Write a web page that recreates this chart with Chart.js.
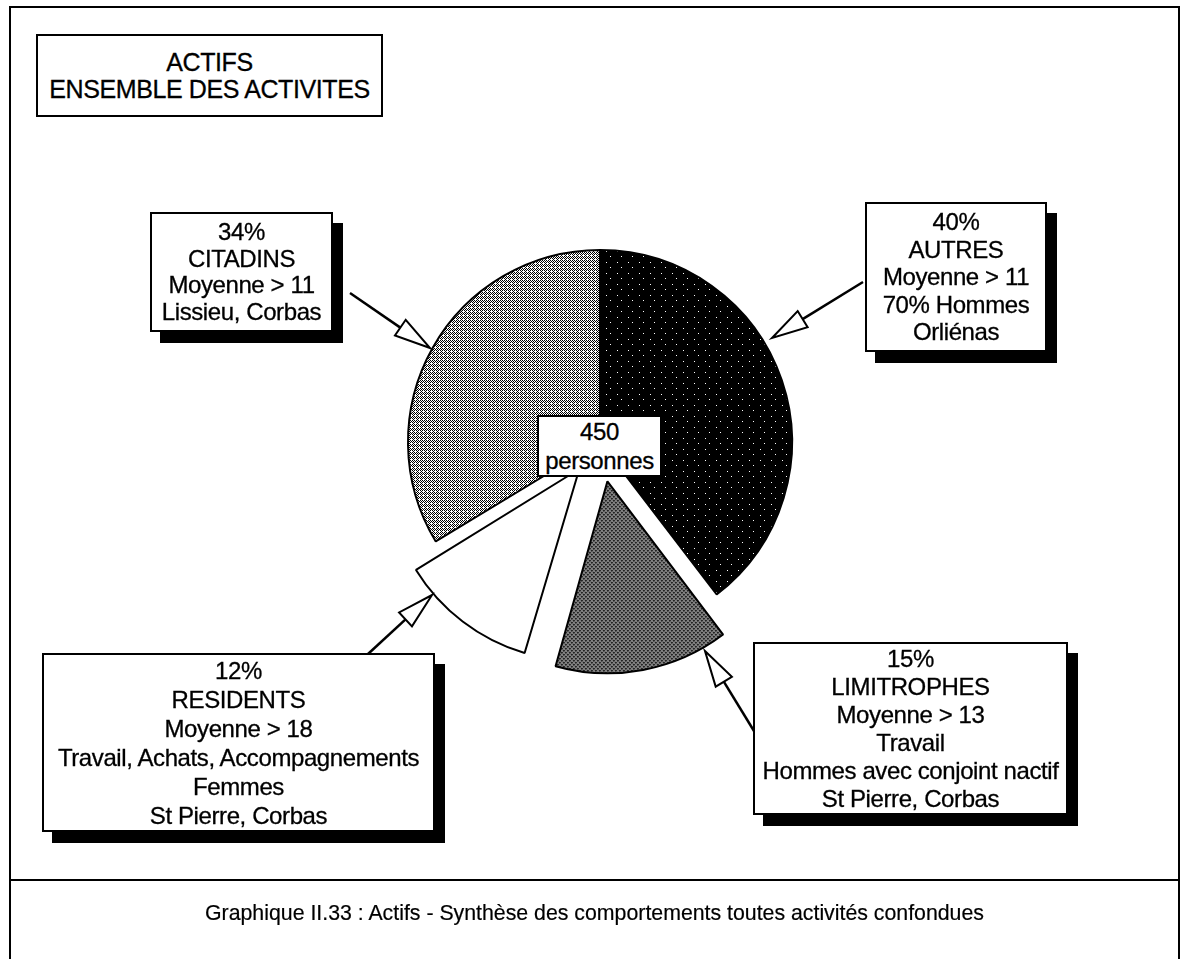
<!DOCTYPE html>
<html>
<head>
<meta charset="utf-8">
<script src="https://cdn.jsdelivr.net/npm/chart.js@4.4.1/dist/chart.umd.min.js"></script>
<style>
body { margin: 0; background: #fff; width: 1187px; height: 959px; overflow: hidden; position: relative;
       font-family: "Liberation Sans", Arial, sans-serif; color: #000; }
#chart { position: absolute; left: 0; top: 0; }
.frame { position: absolute; left: 9px; top: 6px; width: 1171px; height: 960px; border: 2px solid #000; box-sizing: border-box; }
.divider { position: absolute; left: 9px; top: 879px; width: 1171px; height: 0; border-top: 2px solid #000; }
.caption { position: absolute; left: 9px; width: 1171px; top: 901px; text-align: center; font-size: 21.3px;
           -webkit-text-stroke: 0.2px #000; }
.box { position: absolute; background: #fff; border: 2px solid #000; box-sizing: border-box; text-align: center;
       font-size: 24px; display: flex; flex-direction: column; justify-content: center; letter-spacing: -0.4px;
       -webkit-text-stroke: 0.3px #000; white-space: nowrap; }
.shadow { box-shadow: 10px 11px 0 #000; }
</style>
</head>
<body>
<canvas id="chart" width="1187" height="959"></canvas>
<div class="frame"></div>
<div class="divider"></div>
<div class="caption">Graphique II.33 : Actifs - Synthèse des comportements toutes activités confondues</div>
<div id="boxes"></div>
<script>
// donnees du graphique (sens horaire depuis le haut)
const categories = ['AUTRES', 'LIMITROPHES', 'RESIDENTS', 'CITADINS'];
const shares = [40, 15, 12, 34];
const details = [
    ['Moyenne > 11', '70% Hommes', 'Orliénas'],
    ['Moyenne > 13', 'Travail', 'Hommes avec conjoint nactif', 'St Pierre, Corbas'],
    ['Moyenne > 18', 'Travail, Achats, Accompagnements', 'Femmes', 'St Pierre, Corbas'],
    ['Moyenne > 11', 'Lissieu, Corbas']
];
const titleLines = ['ACTIFS', 'ENSEMBLE DES ACTIVITES'];
const centerLines = ['450', 'personnes'];

// mise en page des encadres et des fleches (px)
const boxLayout = [
    { x: 865, y: 202, w: 182, h: 150, lh: 27.5, arrow: [863, 282, 772, 338] },
    { x: 753, y: 642, w: 315, h: 173, lh: 28, arrow: [754, 731, 705, 651] },
    { x: 42, y: 653, w: 393, h: 179, lh: 29, arrow: [368, 654, 432, 595] },
    { x: 150, y: 212, w: 183, h: 120, lh: 26.5, arrow: [350, 293, 430, 348] }
];

function addBox(lines, x, y, w, h, lh, cls, size) {
    var d = document.createElement('div');
    d.className = 'box ' + (cls || '');
    d.style.left = x + 'px';
    d.style.top = y + 'px';
    d.style.width = w + 'px';
    d.style.height = h + 'px';
    d.style.lineHeight = lh + 'px';
    if (size) d.style.fontSize = size + 'px';
    lines.forEach(function (t) {
        var s = document.createElement('div');
        s.textContent = t;
        d.appendChild(s);
    });
    document.getElementById('boxes').appendChild(d);
}

addBox(titleLines, 36, 34, 347, 83, 27, '', 25);
categories.forEach(function (c, i) {
    var b = boxLayout[i];
    addBox([shares[i] + '%', c].concat(details[i]), b.x, b.y, b.w, b.h, b.lh, 'shadow');
});
addBox(centerLines, 537, 415, 125, 62, 29, '', 24);

var ctx = document.getElementById('chart').getContext('2d');

// trames facon impression
function makePattern(rows, ink, paper) {
    var c = document.createElement('canvas');
    c.width = rows[0].length;
    c.height = rows.length;
    var p = c.getContext('2d');
    p.fillStyle = paper;
    p.fillRect(0, 0, c.width, c.height);
    p.fillStyle = ink;
    rows.forEach(function (r, y) {
        for (var x = 0; x < r.length; x++) {
            if (r[x] === '1') p.fillRect(x, y, 1, 1);
        }
    });
    return ctx.createPattern(c, 'repeat');
}

var fills = [
    makePattern(['00000000000', '00000000000', '00000000000', '00000100000', '00000000000',
                 '00000000000', '00000000000', '00000000000', '00000000000', '01000000000',
                 '00000000000'], '#fff', '#000'),
    makePattern(['1010', '0111', '1010', '1101'], '#000', '#fff'),
    '#ffffff',
    makePattern(['1010', '0101', '1010', '0100'], '#000', '#fff')
];

// fleches creuses vers les parts
var arrows = {
    id: 'arrows',
    afterDraw: function (chart) {
        var g = chart.ctx;
        g.save();
        g.strokeStyle = '#000';
        g.lineJoin = 'miter';
        boxLayout.forEach(function (b) {
            var a = b.arrow;
            var dx = a[2] - a[0], dy = a[3] - a[1];
            var len = Math.sqrt(dx * dx + dy * dy);
            var ux = dx / len, uy = dy / len;
            var hl = 36, hw = 9.5;
            var bx = a[2] - ux * hl, by = a[3] - uy * hl;
            g.lineWidth = 2.5;
            g.beginPath();
            g.moveTo(a[0], a[1]);
            g.lineTo(bx, by);
            g.stroke();
            g.lineWidth = 2;
            g.beginPath();
            g.moveTo(a[2], a[3]);
            g.lineTo(bx - uy * hw, by + ux * hw);
            g.lineTo(bx + uy * hw, by - ux * hw);
            g.closePath();
            g.fillStyle = '#fff';
            g.fill();
            g.stroke();
        });
        g.restore();
    }
};

// chart.js agrandit les parts decalees, on garde le meme rayon pour toutes
var keepRadius = {
    id: 'keepRadius',
    afterDatasetsUpdate: function (chart) {
        chart.getDatasetMeta(0).data.forEach(function (arc) {
            var off = ((arc.options && arc.options.offset) || 0) / 4;
            var fix = 1 - Math.sin(Math.min(Math.PI, arc.circumference || 0));
            arc.outerRadius -= off * fix;
        });
    }
};

new Chart(ctx, {
    type: 'pie',
    data: {
        labels: categories,
        datasets: [{
            data: shares,
            backgroundColor: fills,
            borderColor: '#000',
            borderWidth: 2,
            offset: [0, 160, 136, 0]
        }]
    },
    options: {
        responsive: false,
        animation: false,
        events: [],
        radius: 192,
        layout: { padding: { left: 213, right: 200, top: 100, bottom: 175 } },
        plugins: {
            legend: { display: false },
            tooltip: { enabled: false }
        }
    },
    plugins: [arrows, keepRadius]
});
</script>
</body>
</html>
